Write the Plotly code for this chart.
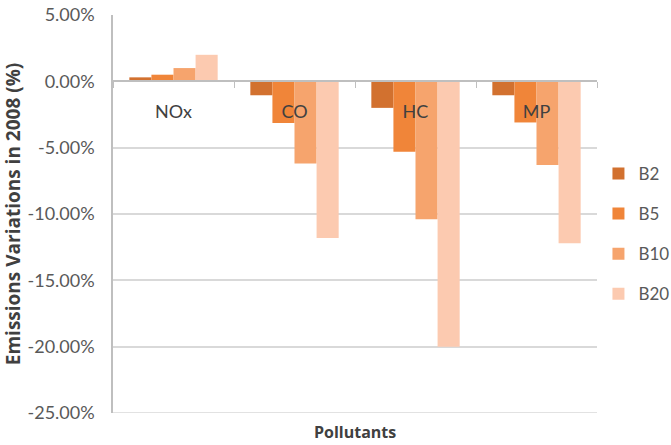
import plotly.graph_objects as go

categories = ["NOx", "CO", "HC", "MP"]
series_names = ["B2", "B5", "B10", "B20"]
b2 = [0.003, -0.0105, -0.020, -0.0105]
b5 = [0.005, -0.0315, -0.053, -0.031]
b10 = [0.010, -0.062, -0.104, -0.063]
b20 = [0.020, -0.118, -0.200, -0.122]
y_ticks = [0.05, 0.0, -0.05, -0.10, -0.15, -0.20, -0.25]
y_tick_text = [f"{v * 100:.2f}%" for v in y_ticks]

colors = ["#D2712F", "#F08539", "#F6A46D", "#FCCAB0"]
font = "Lato, 'Open Sans', sans-serif"
bold_font = "'Open Sans', Lato, sans-serif"

fig = go.Figure()
for i, (name, vals) in enumerate(zip(series_names, [b2, b5, b10, b20])):
    fig.add_trace(go.Bar(x=categories, y=vals, name=name, marker_color=colors[i],
                         marker_line_width=0, legendgroup=name))

fig.update_layout(
    width=671, height=445,
    margin=dict(l=113, r=74, t=15, b=32, autoexpand=False),
    plot_bgcolor="white", paper_bgcolor="white",
    barmode="group", bargap=0.27, bargroupgap=0,
    font=dict(family=font, color="#595959"),
    legend=dict(x=1.003, xanchor="left", y=0.45, yanchor="middle",
                font=dict(size=17, color="#595959"), tracegroupgap=15,
                traceorder="grouped", itemwidth=30),
    xaxis=dict(anchor="free", position=25/30, showgrid=False,
               showline=True, linecolor="#BFBFBF", linewidth=1.5,
               tickson="boundaries", ticks="outside", ticklen=6, tickcolor="#BFBFBF",
               tickfont=dict(size=18, color="#404040"), ticklabelstandoff=14),
    yaxis=dict(range=[-0.25, 0.05], tickvals=y_ticks, ticktext=y_tick_text,
               showgrid=True, gridcolor="#D9D9D9", gridwidth=1.5,
               showline=True, linecolor="#BFBFBF", linewidth=1.5,
               zeroline=False, ticks="", ticklabelstandoff=13,
               tickfont=dict(size=18, color="#595959"),
               title=dict(text="<b>Emissions Variations in 2008 (%)</b>",
                          font=dict(size=19, color="#404040", family=bold_font), standoff=4)),
    shapes=[dict(type="line", xref="paper", yref="y", x0=0, x1=1, y0=-0.25, y1=-0.25,
                 line=dict(color="#D9D9D9", width=1.5))],
)
fig.add_annotation(text="<b>Pollutants</b>", xref="paper", yref="paper",
                   x=0.5, y=-0.048, xanchor="center", yanchor="middle", showarrow=False,
                   font=dict(size=16, color="#404040", family=bold_font))

fig.write_html("out.html")
